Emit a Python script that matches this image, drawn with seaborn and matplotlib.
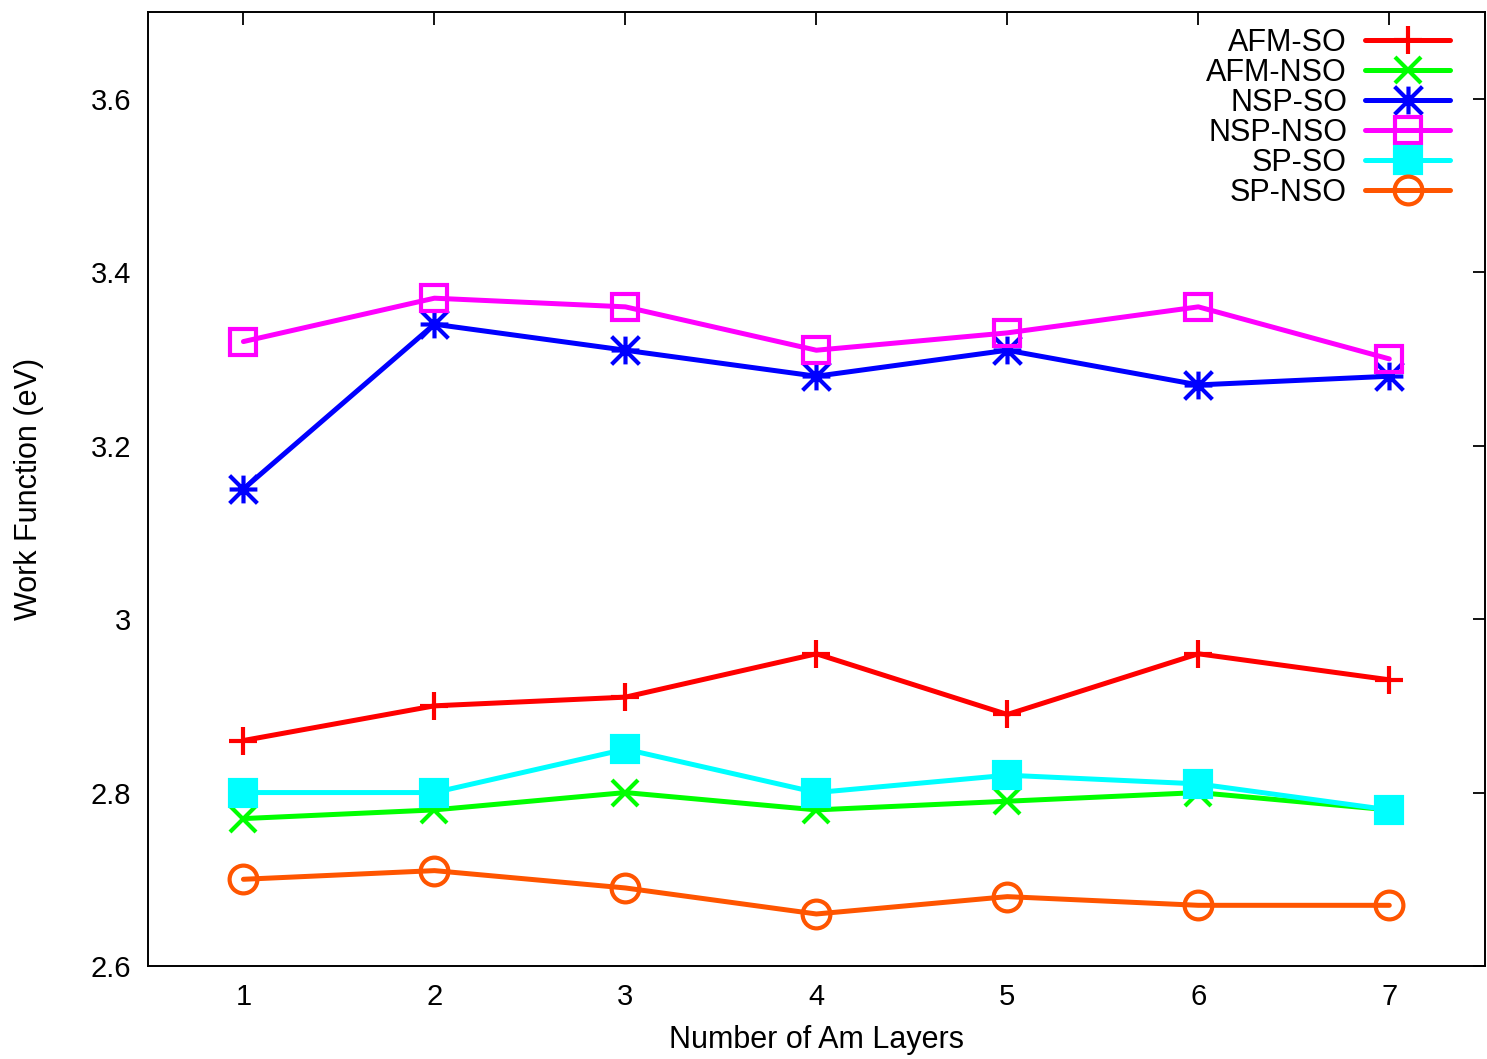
import numpy as np
import pandas as pd
import matplotlib
matplotlib.use("Agg")
import matplotlib.pyplot as plt
from matplotlib.path import Path
import seaborn as sns

layers = [1, 2, 3, 4, 5, 6, 7]
afm_so = [2.86, 2.90, 2.91, 2.96, 2.89, 2.96, 2.93]
afm_nso = [2.77, 2.78, 2.80, 2.78, 2.79, 2.80, 2.78]
nsp_so = [3.15, 3.34, 3.31, 3.28, 3.31, 3.27, 3.28]
nsp_nso = [3.32, 3.37, 3.36, 3.31, 3.33, 3.36, 3.30]
sp_so = [2.80, 2.80, 2.85, 2.80, 2.82, 2.81, 2.78]
sp_nso = [2.70, 2.71, 2.69, 2.66, 2.68, 2.67, 2.67]

series_names = ["AFM-SO", "AFM-NSO", "NSP-SO", "NSP-NSO", "SP-SO", "SP-NSO"]
series_values = [afm_so, afm_nso, nsp_so, nsp_nso, sp_so, sp_nso]

# asterisk marker: a plus and a cross drawn together
star_path = Path(
    [(-1, 0), (1, 0), (0, -1), (0, 1), (-1, -1), (1, 1), (-1, 1), (1, -1)],
    [Path.MOVETO, Path.LINETO] * 4,
)

styles = {
    "AFM-SO": dict(color="#ff0000", marker="+", ms=20, mfc="none"),
    "AFM-NSO": dict(color="#00ff00", marker="x", ms=19, mfc="none"),
    "NSP-SO": dict(color="#0000ff", marker=star_path, ms=20, mfc="none"),
    "NSP-NSO": dict(color="#ff00ff", marker="s", ms=19, mfc="none"),
    "SP-SO": dict(color="#00ffff", marker="s", ms=19, mfc="#00ffff"),
    "SP-NSO": dict(color="#ff5500", marker="o", ms=20, mfc="none"),
}

sns.set_style("white")
plt.rcParams["font.family"] = ["Liberation Sans", "DejaVu Sans"]
plt.rcParams["text.color"] = "black"
plt.rcParams["axes.labelcolor"] = "black"

fig = plt.figure(figsize=(14.87, 10.59), dpi=100)
ax = fig.add_axes([0.0995, 0.0878, 0.8990, 0.9009])

for name, vals in zip(series_names, series_values):
    df = pd.DataFrame({"layers": layers, "wf": vals})
    st = styles[name]
    sns.lineplot(
        data=df, x="layers", y="wf", ax=ax,
        color=st["color"], marker=st["marker"], markersize=st["ms"],
        markerfacecolor=st["mfc"], markeredgecolor=st["color"],
        markeredgewidth=3, linewidth=3.6, label=name,
    )

ax.set_xlim(0.5, 7.5)
ax.set_ylim(2.6, 3.7)
ax.set_xticks(layers)
ax.set_yticks([2.6, 2.8, 3.0, 3.2, 3.4, 3.6])
ax.set_yticklabels(["2.6", "2.8", "3", "3.2", "3.4", "3.6"])
ax.tick_params(direction="in", length=9, width=1.3, top=True, right=True,
               labelsize=21, pad=12, colors="black")
for sp in ax.spines.values():
    sp.set_visible(True)
    sp.set_color("black")
    sp.set_linewidth(1.4)

ax.set_xlabel("Number of Am Layers", fontsize=22, labelpad=10)
ax.set_ylabel("Work Function (eV)", fontsize=22, labelpad=34)

leg = ax.legend(loc="upper right", frameon=False, markerfirst=False, fontsize=22,
                handlelength=2.78, handletextpad=0.59, labelspacing=0.0,
                borderaxespad=0, borderpad=0,
                bbox_to_anchor=(1450 / 1487, 1 - 28 / 1059),
                bbox_transform=fig.transFigure)
for t in leg.get_texts():
    t.set_color("black")

fig.savefig("out.png", dpi=100)
